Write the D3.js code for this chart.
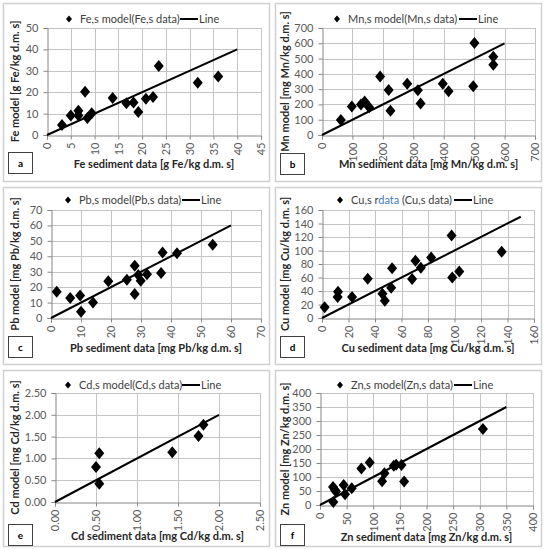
<!DOCTYPE html>
<html><head><meta charset="utf-8">
<script src="https://cdn.jsdelivr.net/npm/d3@7"></script>
<style>
body{margin:0;background:#fff;}
text{font-family:Lato,"Open Sans",sans-serif;}
</style></head>
<body><svg id="c" width="545" height="550"></svg>
<script>
// ---- data ----
const feX = [3.15,5.0,6.6,6.6,8.0,8.5,9.4,13.8,16.7,18.2,19.2,20.8,22.3,23.5,31.7,36.0];
const feY = [4.7,9.1,11.3,9.1,20.2,7.9,10.2,17.3,14.8,15.2,10.8,16.9,17.7,32.2,24.4,27.3];
const mnX = [62,98,128,140,155,191,219,225,280,315,324,397,416,497,501,563,563];
const mnY = [98,186,199,219,182,383,295,158,335,293,206,335,287,319,602,512,460];
const pbX = [1.9,6.4,9.7,10.0,14.0,19.1,25.3,27.9,27.9,29.1,29.9,32.0,36.7,37.2,42.0,53.9];
const pbY = [17.0,12.9,14.6,4.1,10.1,23.9,24.8,33.8,15.5,27.8,24.1,28.4,29.1,42.4,42.0,47.4];
const cuX = [2.0,11.8,12.1,22.7,34.5,45.6,47.4,52.2,52.9,68.0,70.5,74.6,82.4,97.8,98.3,103.6,135.6];
const cuY = [15.8,31.0,38.9,31.0,58.1,35.9,25.6,44.8,73.8,57.6,84.7,74.3,89.6,122.1,60.1,68.9,98.0];
const cdX = [0.50,0.54,0.54,1.43,1.75,1.81];
const cdY = [0.80,1.12,0.42,1.14,1.515,1.77];
const znX = [24.5,28,30,25,44.5,47,59.6,77.7,93.4,116.6,121,138.6,143,153,158,306];
const znY = [64.5,54,48,11,71.6,38,59.7,130,152,85,113,140,144,143,84,271];
const lineEnds = [40,600,60,150,2,350];
const axisMax = [[45,50],[700,700],[70,70],[160,160],[2.5,2.5],[400,400]];
const tickSteps = [[5,10],[100,100],[10,10],[20,20],[0.5,0.5],[50,50]];
const legendSeries = ["Fe,s model(Fe,s data)","Mn,s model(Mn,s data)","Pb,s model(Pb,s data)","Cu,s rdata (Cu,s data)","Cd,s model(Cd,s data)","Zn,s model(Zn,s data)"];
const xTitles = ["Fe sediment data [g Fe/kg d.m. s]","Mn sediment data [mg Mn/kg d.m. s]","Pb sediment data [mg Pb/kg d.m. s]","Cu sediment data [mg Cu/kg d.m. s]","Cd sediment data [mg Cd/kg d.m. s]","Zn sediment data [mg Zn/kg d.m. s]"];
const yTitles = ["Fe model [g Fe/kg d.m. s]","Mn model [mg Mn/kg d.m. s]","Pb model [mg Pb/kg d.m. s]","Cu model [mg Cu/kg d.m. s]","Cd  model [mg Cd/kg d.m. s]","Zn model [mg Zn/kg d.m. s]"];
const letters = ["a","b","c","d","e","f"];
const seriesX = [feX,mnX,pbX,cuX,cdX,znX];
const seriesY = [feY,mnY,pbY,cuY,cdY,znY];

// ---- layout ----
const panels = [
  {bx:3,by:3,bw:266,bh:178, px:47,py:28,pr:261,pb:135, legX:69, lineX:180, legY:19, xtY:164, ytX:15, box:[8,152]},
  {bx:275,by:3,bw:266,bh:178, px:322,py:28,pr:535,pb:135, legX:337, lineX:459, legY:19, xtY:164, ytX:285, box:[280,153]},
  {bx:3,by:187,bw:266,bh:177, px:51,py:210,pr:261,pb:318, legX:68, lineX:182, legY:200, xtY:348, ytX:15, box:[8,336]},
  {bx:275,by:187,bw:266,bh:177, px:322,py:210,pr:534,pb:318, legX:340, lineX:454, legY:200, xtY:348, ytX:285, box:[280,336]},
  {bx:3,by:370,bw:266,bh:176, px:55,py:393,pr:260,pb:502, legX:68, lineX:182, legY:385, xtY:536, ytX:15, box:[8,524]},
  {bx:275,by:370,bw:266,bh:176, px:320,py:393,pr:533,pb:505, legX:340, lineX:454, legY:385, xtY:537, ytX:285, box:[280,524]}
];

const svg = d3.select("#c");
const diamond = (r)=>`M0,${-r*1.2}L${r},0L0,${r*1.2}L${-r},0Z`;

panels.forEach((p,i)=>{
  const g = svg.append("g");
  g.append("rect").attr("x",p.bx+0.5).attr("y",p.by+0.5).attr("width",p.bw).attr("height",p.bh)
    .attr("fill","#fff").attr("stroke","#d0d0d0").attr("stroke-width",1.5);
  const [xm,ym] = axisMax[i];
  const [xs,ys] = tickSteps[i];
  const x = d3.scaleLinear().domain([0,xm]).range([p.px,p.pr]);
  const y = d3.scaleLinear().domain([0,ym]).range([p.pb,p.py]);
  const xt = d3.range(0,xm+xs/2,xs), yt = d3.range(0,ym+ys/2,ys);
  const fmt = i===4 ? d3.format(".2f") : d3.format("d");
  // grid
  g.append("g").selectAll("line.v").data(xt.slice(1)).join("line")
    .attr("x1",d=>Math.round(x(d))+0.5).attr("x2",d=>Math.round(x(d))+0.5)
    .attr("y1",p.py).attr("y2",p.pb).attr("stroke","#c4c4c4").attr("stroke-width",1);
  g.append("g").selectAll("line.h").data(yt.slice(1)).join("line")
    .attr("y1",d=>Math.round(y(d))+0.5).attr("y2",d=>Math.round(y(d))+0.5)
    .attr("x1",p.px).attr("x2",p.pr).attr("stroke","#c4c4c4").attr("stroke-width",1);
  // axes
  const ya = g.append("g").attr("transform",`translate(${p.px+0.5},0)`)
    .call(d3.axisLeft(y).tickValues(yt).tickFormat(fmt).tickSizeOuter(0).tickSize(4).tickPadding(5));
  const xa = g.append("g").attr("transform",`translate(0,${p.pb+0.5})`)
    .call(d3.axisBottom(x).tickValues(xt).tickFormat(fmt).tickSizeOuter(0).tickSize(4).tickPadding(3));
  [ya,xa].forEach(a=>{
    a.select(".domain").attr("stroke","#868686");
    a.selectAll(".tick line").attr("stroke","#868686");
    a.selectAll("text").attr("fill","#595959").attr("font-size",11).style("font-family","Lato, 'Open Sans', sans-serif");
  });
  xa.selectAll(".tick text").attr("transform","rotate(-90)").attr("text-anchor","end")
    .attr("x",-7).attr("y",0).attr("dy","0.35em");
  // line
  g.append("line").attr("x1",x(0)).attr("y1",y(0)).attr("x2",x(lineEnds[i])).attr("y2",y(lineEnds[i]))
    .attr("stroke","#000").attr("stroke-width",2);
  // points
  g.append("g").selectAll("path").data(seriesX[i].map((v,j)=>[v,seriesY[i][j]])).join("path")
    .attr("d",diamond(5)).attr("transform",d=>`translate(${x(d[0])},${y(d[1])})`).attr("fill","#000");
  // legend
  g.append("path").attr("d",diamond(3)).attr("transform",`translate(${p.legX},${p.legY})`).attr("fill","#000");
  const lt = g.append("text").attr("x",p.legX+11).attr("y",p.legY).attr("dy","0.35em")
    .attr("font-size",11).attr("fill","#404040");
  if(i===3){
    lt.append("tspan").text("Cu,s r");
    lt.append("tspan").attr("fill","#3c7dc4").text("data");
    lt.append("tspan").text(" (Cu,s data)");
  } else lt.text(legendSeries[i]);
  g.append("line").attr("x1",p.lineX).attr("x2",p.lineX+18).attr("y1",p.legY).attr("y2",p.legY)
    .attr("stroke","#000").attr("stroke-width",2);
  g.append("text").attr("x",p.lineX+19).attr("y",p.legY).attr("dy","0.35em")
    .attr("font-size",11).attr("fill","#404040").text("Line");
  // titles
  g.append("text").attr("x",(p.px+p.pr)/2).attr("y",p.xtY).attr("dy","0.35em").attr("text-anchor","middle")
    .attr("font-size",11).attr("font-weight","bold").attr("fill","#262626").text(xTitles[i]);
  g.append("text").attr("transform",`translate(${p.ytX},${(p.py+p.pb)/2}) rotate(-90)`)
    .attr("dy","0.35em").attr("text-anchor","middle")
    .attr("font-size",11).attr("font-weight","bold").attr("fill","#262626").text(yTitles[i]);
  // letter box
  g.append("rect").attr("x",p.box[0]+0.5).attr("y",p.box[1]+0.5).attr("width",24).attr("height",21)
    .attr("fill","#fff").attr("stroke","#404040").attr("stroke-width",1);
  g.append("text").attr("x",p.box[0]+12.5).attr("y",p.box[1]+11).attr("dy","0.35em").attr("text-anchor","middle")
    .attr("font-size",10).attr("font-weight","bold").attr("fill","#000").text(letters[i]);
});
</script></body></html>
